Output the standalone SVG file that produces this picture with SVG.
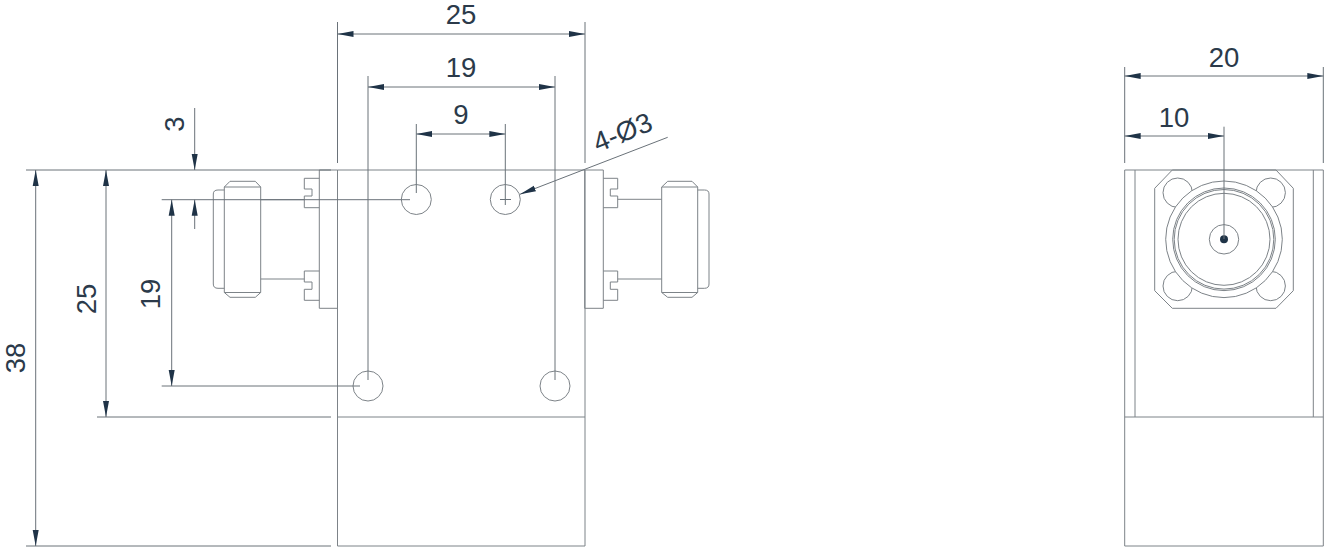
<svg xmlns="http://www.w3.org/2000/svg" width="1331" height="555" viewBox="0 0 1331 555">
<defs>
<marker id="a" markerUnits="userSpaceOnUse" markerWidth="18" markerHeight="8" refX="16" refY="4" orient="auto-start-reverse"><path d="M0 1L16 4L0 7Z" fill="#1f3347"/></marker>
</defs>
<style>
.s{fill:none;stroke:#7d8388;stroke-width:1}
.d{fill:none;stroke:#6a7279;stroke-width:1}
.m{fill:none;stroke:#6a7279;stroke-width:1;marker-start:url(#a);marker-end:url(#a)}
.e{fill:none;stroke:#6a7279;stroke-width:1;marker-end:url(#a)}
text{font-family:"Liberation Sans",Arial,sans-serif;font-size:27.5px;fill:#2b3a4a;text-anchor:middle}
</style>
<rect width="1331" height="555" fill="#fff"/>
<g id="front-body">
<path class="s" d="M337.5 170H585V546H337.5ZM337.5 417H585"/>
</g>
<g id="left-connector">
<path class="s" d="M319.3 170H337.5V308.3H319.3ZM319.3 178.3H304.3V189H312V196H304.3V207.7H319.3M319.3 271H304.3V282H312V289.3H304.3V300.3H319.3M260.7 199.7H304.3M260.7 279H304.3"/>
<path class="s" d="M224.3 187L230 181.3H255.3L260.7 187V292.5L255.3 297.3H230L224.3 292.5ZM224.3 190H218Q213.3 190 213.3 194V284Q213.3 288.3 218 288.3H224.3M224.3 187H260.7M224.3 292.5H260.7"/>
</g>
<g id="right-connector">
<path class="s" d="M584.7 170H603.3V308.3H584.7ZM603.3 178.3H617.7V189H610.3V196H617.7V207.7H603.3M603.3 271H617.7V282H610.3V289.3H617.7V300.3H603.3M617.7 199.3H661.7M617.7 279H661.7"/>
<path class="s" d="M661.7 187L667.7 181.3H692L697.7 187V292.5L692 297.3H667.7L661.7 292.5ZM697.7 190H704.5Q709 190 709 194V284Q709 288.3 704.5 288.3H697.7M661.7 187H697.7M661.7 292.5H697.7"/>
</g>
<g id="holes">
<circle class="s" cx="416.3" cy="199.5" r="15"/>
<circle class="s" cx="505.3" cy="199.5" r="15"/>
<circle class="s" cx="368" cy="386" r="15"/>
<circle class="s" cx="555" cy="386" r="15"/>
<path class="d" d="M500 199.5H511M505.3 194V205"/>
</g>
<g id="side-view">
<path class="s" d="M1124.7 170H1323.3V546H1124.7ZM1135 170V417M1313.3 170V417M1124.7 417H1323.3"/>
<path class="s" d="M1172.3 170H1276L1293.3 188.3V290.7L1276 308.3H1172.3L1154.7 290.7V188.3Z"/>
<circle class="s" cx="1177.7" cy="192.7" r="14.7"/>
<circle class="s" cx="1270.7" cy="192.7" r="14.7"/>
<circle class="s" cx="1177.7" cy="286" r="14.7"/>
<circle class="s" cx="1270.7" cy="286" r="14.7"/>
<circle cx="1224" cy="239.3" r="58.3" fill="#fff" stroke="#7d8388"/>
<circle class="s" cx="1224" cy="239.3" r="51.3"/>
<circle class="s" cx="1224" cy="239.3" r="49.8"/>
<circle class="s" cx="1224" cy="239.3" r="46"/>
<circle class="s" cx="1224" cy="239.3" r="14.7"/>
<circle cx="1224" cy="239.3" r="4" fill="#1f3347"/>
</g>
<g id="connectors">
<path class="d" d="M337.5 22V163M585 22V163M368 76V380M555 76V380M416.3 124V193M505.3 124V194M26 170H331M97 417H331M26 546H331M161.7 199.7H410M161.7 386H360M1124.7 67V163M1323.3 67V163M1224 126.7V239"/>
<line class="m" x1="337.5" y1="34" x2="585" y2="34"/>
<line class="m" x1="368" y1="87" x2="555" y2="87"/>
<line class="m" x1="416.3" y1="134" x2="505.3" y2="134"/>
<line class="m" x1="35.7" y1="170" x2="35.7" y2="546"/>
<line class="m" x1="106" y1="170" x2="106" y2="417"/>
<line class="m" x1="171.7" y1="199.7" x2="171.7" y2="386"/>
<line class="e" x1="194.7" y1="108" x2="194.7" y2="170"/>
<line class="e" x1="194.7" y1="229" x2="194.7" y2="199.7"/>
<line class="e" x1="667.7" y1="137.3" x2="520" y2="194.3"/>
<line class="m" x1="1124.7" y1="76" x2="1323.3" y2="76"/>
<line class="m" x1="1124.7" y1="136" x2="1224" y2="136"/>
</g>
<g id="labels">
<text x="461" y="24">25</text>
<text x="461" y="77">19</text>
<text x="461" y="124">9</text>
<text x="1224" y="67">20</text>
<text x="1174" y="127">10</text>
<text transform="translate(184 124) rotate(-90)">3</text>
<text transform="translate(96 299) rotate(-90)">25</text>
<text transform="translate(160 294) rotate(-90)">19</text>
<text transform="translate(25 358) rotate(-90)">38</text>
<text transform="translate(626 141) rotate(-22)">4-Ø3</text>
</g>
</svg>
